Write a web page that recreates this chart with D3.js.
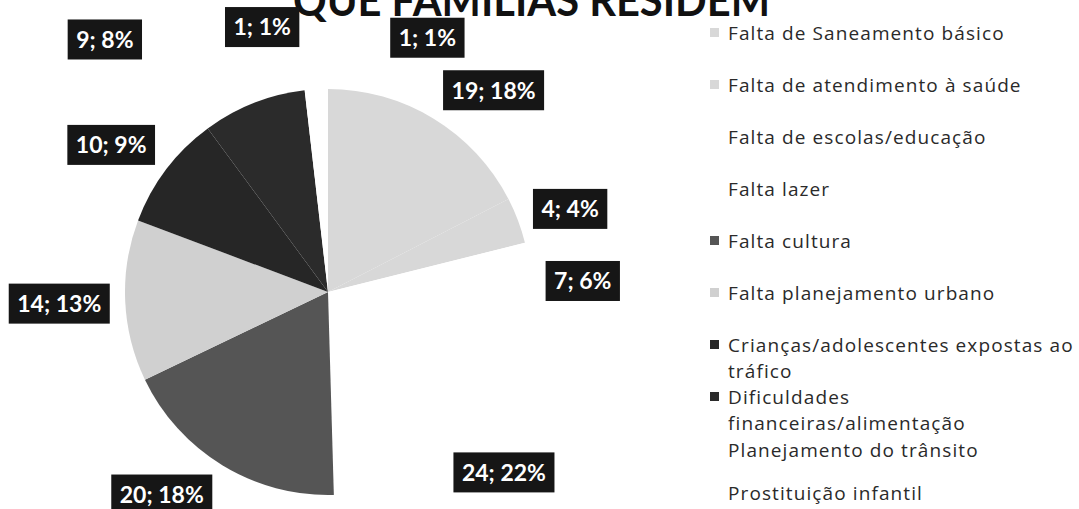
<!DOCTYPE html>
<html>
<head>
<meta charset="utf-8">
<script src="https://cdn.jsdelivr.net/npm/d3@7"></script>
<style>
  html, body { margin: 0; padding: 0; background: #fff; }
  svg { display: block; }
</style>
</head>
<body>
<svg id="chart" width="1079" height="509"></svg>
<script>
// values (order = clockwise from 12 o'clock)
const categories = [
  'Falta de Saneamento básico',
  'Falta de atendimento à saúde',
  'Falta de escolas/educação',
  'Falta lazer',
  'Falta cultura',
  'Falta planejamento urbano',
  'Crianças/adolescentes expostas ao tráfico',
  'Dificuldades financeiras/alimentação',
  'Planejamento do trânsito',
  'Prostituição infantil'
];
const counts = [19, 4, 7, 24, 20, 14, 10, 9, 1, 1];
const percents = [18, 4, 6, 22, 18, 13, 9, 8, 1, 1];

// legend lines as they wrap in the picture
const legendLines = [
  ['Falta de Saneamento básico'],
  ['Falta de atendimento à saúde'],
  ['Falta de escolas/educação'],
  ['Falta lazer'],
  ['Falta cultura'],
  ['Falta planejamento urbano'],
  ['Crianças/adolescentes expostas ao', 'tráfico'],
  ['Dificuldades', 'financeiras/alimentação'],
  ['Planejamento do trânsito'],
  ['Prostituição infantil']
];

// grey shades of the scan (white slices disappear into the page)
const shades = ['#d8d8d8', '#d8d8d8', '#ffffff', '#ffffff', '#555555',
                '#d0d0d0', '#262626', '#2b2b2b', '#ffffff', '#ffffff'];

// Excel moved some labels; angle nudge (deg) and distance from centre
const labelNudge = [8, 1.7, 0, -3, 8, 0, -3, -20, -9, 23];
const labelDist  = [261, 256, 255, 252, 262, 269, 262, 337, 273, 273];

// legend row positions (first line of each entry)
const legendRowY = [33, 85, 137, 189, 241, 293, 345, 397, 450, 493];

const svg = d3.select('#chart');
const cx = 328, cy = 292, radius = 203;

// title, cut by the scan at the top edge
svg.append('text')
    .attr('x', 293)
    .attr('y', 16)
    .attr('textLength', 477)
    .attr('lengthAdjust', 'spacingAndGlyphs')
    .style('font-family', 'Lato, sans-serif')
    .style('font-weight', 'bold')
    .style('font-size', '44px')
    .style('fill', '#111')
    .text('QUE FAMÍLIAS RESIDEM');

const data = categories.map((c, i) => ({ label: c, value: counts[i], pct: percents[i], i: i }));

const pie = d3.pie().sort(null).value(d => d.value);
const arc = d3.arc().innerRadius(0).outerRadius(radius);
const arcs = pie(data);

const pieG = svg.append('g').attr('transform', `translate(${cx}, ${cy})`);

pieG.selectAll('path')
    .data(arcs)
    .enter().append('path')
    .attr('d', arc)
    .attr('fill', d => shades[d.data.i]);

// data labels: black boxes with white bold text
const labelArc = d3.arc();
const labels = pieG.selectAll('g.lbl')
    .data(arcs)
    .enter().append('g')
    .attr('class', 'lbl')
    .attr('transform', d => {
      const a = (d.startAngle + d.endAngle) / 2 + labelNudge[d.data.i] * Math.PI / 180;
      const r = labelDist[d.data.i];
      const p = labelArc.centroid({ innerRadius: r, outerRadius: r, startAngle: a, endAngle: a });
      return `translate(${p[0]}, ${p[1]})`;
    });

labels.append('rect').attr('fill', '#161616');

labels.append('text')
    .attr('text-anchor', 'middle')
    .attr('dy', '0.36em')
    .style('font-family', 'Lato, sans-serif')
    .style('font-weight', 'bold')
    .style('font-size', '23px')
    .style('fill', '#fff')
    .text(d => `${d.data.value}; ${d.data.pct}%`);

labels.each(function() {
  const g = d3.select(this);
  const w = g.select('text').node().getComputedTextLength() + 17;
  g.select('rect')
      .attr('x', -w / 2).attr('y', -20)
      .attr('width', w).attr('height', 40);
});

// legend
const legend = svg.append('g').attr('transform', 'translate(710, 0)');

legendLines.forEach((lines, i) => {
  const y = legendRowY[i];
  legend.append('rect')
      .attr('x', 0)
      .attr('y', y - 5)
      .attr('width', 9)
      .attr('height', 9)
      .attr('fill', shades[i]);

  lines.forEach((line, j) => {
    legend.append('text')
        .attr('x', 18)
        .attr('y', y + j * 26)
        .attr('dy', '0.35em')
        .style('font-family', '"Open Sans", sans-serif')
        .style('font-size', '19px')
        .style('letter-spacing', '1.1px')
        .style('fill', '#2a2a2a')
        .text(line);
  });
});
</script>
</body>
</html>
